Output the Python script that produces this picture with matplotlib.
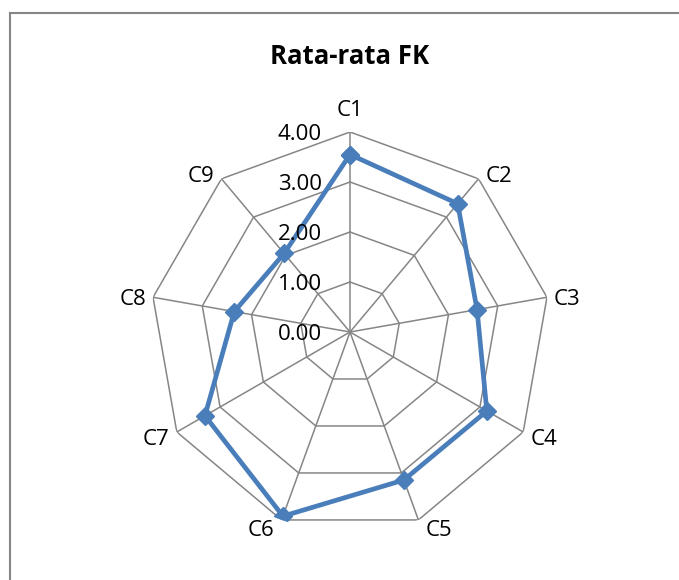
import numpy as np
import matplotlib
matplotlib.use("Agg")
import matplotlib.pyplot as plt
from matplotlib.transforms import offset_copy
from matplotlib.lines import Line2D

# data
categories = ["C1", "C2", "C3", "C4", "C5", "C6", "C7", "C8", "C9"]
values = [3.55, 3.35, 2.58, 3.16, 3.15, 3.92, 3.35, 2.35, 2.05]
rings = [1.0, 2.0, 3.0, 4.0]
ring_labels = ["0.00", "1.00", "2.00", "3.00", "4.00"]

BLUE = "#4A7EBB"
GRID = "#868686"

plt.rcParams["font.family"] = ["Open Sans", "DejaVu Sans"]


def main():
    fig = plt.figure(figsize=(6.79, 5.8), dpi=100)

    # chart frame (only top and left edges show)
    fig.add_artist(Line2D([9.5 / 679, 9.5 / 679], [0, 1 - 13 / 580], color=GRID, lw=1.5))
    fig.add_artist(Line2D([9.5 / 679, 1], [1 - 13 / 580, 1 - 13 / 580], color=GRID, lw=1.5))

    ax = fig.add_axes([150 / 679, 48 / 580, 400 / 679, 400 / 580], projection="polar")
    ax.set_theta_offset(np.pi / 2)
    ax.set_theta_direction(-1)
    ax.set_ylim(0, 4)
    ax.grid(False)
    ax.spines["polar"].set_visible(False)
    ax.set_xticks([])
    ax.set_yticks([])
    ax.patch.set_alpha(0)

    n = len(categories)
    theta = np.arange(n) * 2 * np.pi / n
    closed = np.append(theta, theta[0])

    # polygon grid
    for r in rings:
        ax.plot(closed, [r] * (n + 1), color=GRID, lw=1.1, zorder=1)
    for t in theta:
        ax.plot([t, t], [0, 4], color=GRID, lw=1.1, zorder=1)

    # series
    vals = values + values[:1]
    ax.plot(closed, vals, color=BLUE, lw=3.4, marker="D", markersize=9,
            markerfacecolor=BLUE, markeredgecolor=BLUE, zorder=3)

    # radial value labels left of the C1 spoke
    trans = offset_copy(ax.transData, fig=fig, x=-28, y=-3, units="dots")
    for i, lab in enumerate(ring_labels):
        ax.text(0, i, lab, transform=trans, ha="right", va="center",
                fontsize=16, color="black", zorder=4)

    # category labels, placed next to the outer vertices like Excel does
    for t, c in zip(theta, categories):
        s, co = np.sin(t), np.cos(t)
        if abs(s) < 0.1:
            ha, dx, dy = "center", 0, 25 * co
        else:
            ha = "left" if s > 0 else "right"
            dx, dy = 7 * np.sign(s), 7.5 * co
        tr = offset_copy(ax.transData, fig=fig, x=dx, y=dy - 3.5, units="dots")
        ax.text(t, 4, c, transform=tr, ha=ha, va="center", fontsize=16, color="black")

    fig.text(350 / 679, 1 - 56 / 580, "Rata-rata FK", ha="center", va="center",
             fontsize=18.5, fontweight="bold")

    fig.savefig("out.png", dpi=100)


if __name__ == "__main__":
    main()
